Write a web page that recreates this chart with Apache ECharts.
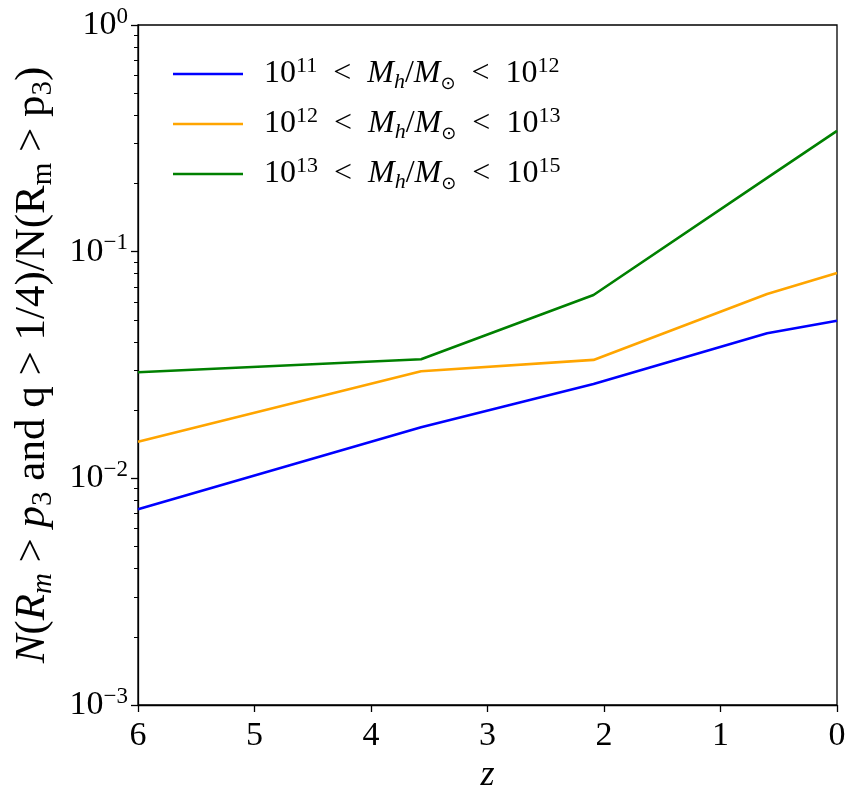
<!DOCTYPE html>
<html>
<head>
<meta charset="utf-8">
<script src="https://cdn.jsdelivr.net/npm/echarts@6/dist/echarts.min.js"></script>
<style>
  html, body { margin: 0; padding: 0; background: #fff; }
  #chart { width: 861px; height: 809px; }
</style>
</head>
<body>
<div id="chart"></div>
<script>
// redshift snapshots
let zValues = [6, 3.57, 2.09, 0.6, 0];
let lowMass = [0.0073, 0.0168, 0.0261, 0.0437, 0.0496];
let midMass = [0.0145, 0.0297, 0.0333, 0.0650, 0.0805];
let highMass = [0.0294, 0.0335, 0.0644, 0.2116, 0.341];
let seriesNames = ['low', 'mid', 'high'];
let legendLabels = {
    low: ['11', '12'],
    mid: ['12', '13'],
    high: ['13', '15']
};
let xTicks = [0, 1, 2, 3, 4, 5, 6];
let yMajor = [0.001, 0.01, 0.1, 1];
let yMinor = [];
[0.001, 0.01, 0.1].forEach(d => {
    for (let k = 2; k <= 9; k++) yMinor.push(+(k * d).toPrecision(3));
});

const font = 'Liberation Serif';
const colors = ['#0000ff', '#ffa500', '#008000'];

function pairs(vals) {
    return zValues.map((z, i) => [z, vals[i]]);
}

let chartDom = document.getElementById('chart');
let chart = echarts.init(chartDom);

let tickRich = {
    n: { fontFamily: font, fontSize: 34, color: '#000', lineHeight: 40 },
    sup: { fontFamily: font, fontSize: 23, color: '#000', verticalAlign: 'top', lineHeight: 40, padding: [0, 0, 14, 0] }
};

let legendRich = {
    n: { fontFamily: font, fontSize: 32, color: '#000', lineHeight: 38 },
    i: { fontFamily: font, fontSize: 32, fontStyle: 'italic', color: '#000', lineHeight: 38 },
    sup: { fontFamily: font, fontSize: 22, color: '#000', verticalAlign: 'top', lineHeight: 38, padding: [0, 0, 12, 0] },
    sub: { fontFamily: font, fontSize: 22, fontStyle: 'italic', color: '#000', verticalAlign: 'bottom', lineHeight: 20 },
    sun: { fontFamily: 'DejaVu Sans', fontSize: 18, color: '#000', verticalAlign: 'bottom', lineHeight: 20 }
};

let titleRich = {
    n: { fontFamily: font, fontSize: 43, color: '#000', lineHeight: 50 },
    i: { fontFamily: font, fontSize: 43, fontStyle: 'italic', color: '#000', lineHeight: 50 },
    sub: { fontFamily: font, fontSize: 29, fontStyle: 'italic', color: '#000', verticalAlign: 'bottom', lineHeight: 26 },
    subr: { fontFamily: font, fontSize: 29, color: '#000', verticalAlign: 'bottom', lineHeight: 26 }
};

function supLabel(v) {
    let e = Math.round(Math.log10(v));
    let s = e < 0 ? '\u2212' + (-e) : '' + e;
    return '{n|10}{sup|' + s + '}';
}

let option = {
    backgroundColor: '#fff',
    animation: false,
    grid: {
        left: 138,
        right: 24,
        top: 25,
        bottom: 104,
        outerBoundsMode: 'none',
        containLabel: false,
        show: true,
        borderColor: '#000',
        borderWidth: 1.3,
        backgroundColor: 'transparent'
    },
    legend: {
        left: 168,
        top: 50,
        orient: 'vertical',
        icon: 'rect',
        itemWidth: 70,
        itemHeight: 2.5,
        itemGap: 12,
        data: seriesNames,
        formatter: function (name) {
            let p = legendLabels[name];
            return '{n|10}{sup|' + p[0] + '}{n|  <  }{i|M}{sub|h}{n|/}{i|M}{sun|\u2299}{n|  <  10}{sup|' + p[1] + '}';
        },
        textStyle: {
            padding: [0, 0, 0, 16],
            rich: legendRich
        }
    },
    xAxis: {
        type: 'value',
        min: 0,
        max: 6,
        interval: 1,
        inverse: true,
        name: 'z',
        nameLocation: 'middle',
        nameGap: 50,
        nameTextStyle: { fontFamily: font, fontSize: 36, fontStyle: 'italic', color: '#000' },
        axisLine: { show: true, onZero: false, lineStyle: { color: '#000', width: 1.3 } },
        axisTick: { show: true, inside: false, length: 7, lineStyle: { color: '#000', width: 1.3 } },
        axisLabel: { margin: 14, fontFamily: font, fontSize: 34, color: '#000' },
        splitLine: { show: false }
    },
    yAxis: [
        {
            type: 'log',
            logBase: 10,
            min: 0.001,
            max: 1,
            position: 'left',
            offset: 0,
            name: '{i|N}{n|(}{i|R}{sub|m}{n| > }{i|p}{subr|3}{n| and q > 1/4)/N(R}{subr|m}{n| > p}{subr|3}{n|)}',
            nameLocation: 'middle',
            nameRotate: 90,
            nameGap: 80,
            nameTextStyle: { rich: titleRich },
            axisLine: { show: true, onZero: false, lineStyle: { color: '#000', width: 1.3 } },
            axisTick: { show: true, inside: false, length: 7, lineStyle: { color: '#000', width: 1.3 }, customValues: yMajor },
            axisLabel: {
                margin: 10,
                customValues: yMajor,
                formatter: supLabel,
                rich: tickRich
            },
            splitLine: { show: false },
            minorTick: { show: false }
        },
        {
            type: 'log',
            logBase: 10,
            min: 0.001,
            max: 1,
            position: 'left',
            offset: 0,
            axisLine: { show: false, onZero: false },
            axisTick: { show: true, inside: false, length: 4, lineStyle: { color: '#000', width: 1 }, customValues: yMinor },
            axisLabel: { show: false },
            splitLine: { show: false }
        }
    ],
    series: [
        { name: 'low', type: 'line', data: pairs(lowMass), showSymbol: false, symbol: 'none', lineStyle: { width: 2.6, color: colors[0] }, itemStyle: { color: colors[0] } },
        { name: 'mid', type: 'line', data: pairs(midMass), showSymbol: false, symbol: 'none', lineStyle: { width: 2.6, color: colors[1] }, itemStyle: { color: colors[1] } },
        { name: 'high', type: 'line', data: pairs(highMass), showSymbol: false, symbol: 'none', lineStyle: { width: 2.6, color: colors[2] }, itemStyle: { color: colors[2] } }
    ]
};

chart.setOption(option);

window.addEventListener('resize', () => {
    chart.resize();
});
</script>
</body>
</html>
